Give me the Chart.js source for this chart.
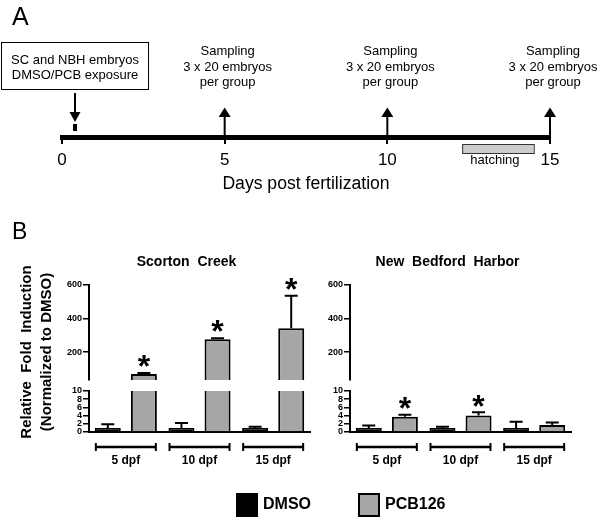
<!DOCTYPE html>
<html>
<head>
<meta charset="utf-8">
<script src="https://cdn.jsdelivr.net/npm/chart.js@4.4.0/dist/chart.umd.min.js"></script>
<style>
  body { margin: 0; background: #fff; }
  #wrap { position: relative; width: 600px; height: 526px; }
  canvas { position: absolute; left: 0; top: 0; }
</style>
</head>
<body>
<div id="wrap">
  <canvas id="timeline" width="600" height="526"></canvas>
  <canvas id="scUp" width="600" height="526"></canvas>
  <canvas id="scLow" width="600" height="526"></canvas>
  <canvas id="nbhUp" width="600" height="526"></canvas>
  <canvas id="nbhLow" width="600" height="526"></canvas>
</div>
<script>
// ---- panel A: timeline ----
const dayTicks = [0, 5, 10, 15];
const exposureDay = 0.4;
const exposureText = ["SC and NBH embryos", "DMSO/PCB exposure"];
const samplingDays = [5, 10, 15];
const samplingText = ["Sampling", "3 x 20 embryos", "per group"];
const hatchingDays = [12.3, 14.5];

// ---- panel B: fold induction ----
const groups = ["5 dpf", "10 dpf", "15 dpf"];
const scDMSO = [1.0, 1.0, 1.0];
const scDMSOErr = [0.9, 1.2, 0.3];
const scPCB = [70, 276, 341];
const scPCBErr = [6, 6, 193];
const scSig = [true, true, true];
const nbhDMSO = [1.0, 1.0, 1.0];
const nbhDMSOErr = [0.6, 0.3, 1.5];
const nbhPCB = [3.7, 4.0, 1.7];
const nbhPCBErr = [0.5, 0.8, 0.6];
const nbhSig = [true, true, false];
const upperTicks = [200, 400, 600];
const upperRange = [35, 600];
const lowerRange = [0, 10];

const FONT = "'Liberation Sans', Arial, sans-serif";
const GRAY = "#a6a6a9";
Chart.defaults.font.family = FONT;
Chart.defaults.color = "#000";

function arrowHead(ctx, x, tipY, baseY, half) {
  ctx.beginPath();
  ctx.moveTo(x - half, baseY);
  ctx.lineTo(x + half, baseY);
  ctx.lineTo(x, tipY);
  ctx.closePath();
  ctx.fill();
}

const timelineNotes = {
  id: "timelineNotes",
  afterDraw(chart) {
    const { ctx, scales: { x } } = chart;
    const base = chart.chartArea.bottom;
    ctx.save();
    ctx.fillStyle = "#000";
    ctx.strokeStyle = "#000";

    ctx.font = "25px " + FONT;
    ctx.textAlign = "left";
    ctx.textBaseline = "alphabetic";
    ctx.fillText("A", 12, 25);

    // exposure box + arrow
    const ex = x.getPixelForValue(exposureDay);
    ctx.lineWidth = 1;
    ctx.strokeRect(ex - 74 + 0.5, 42.5, 147, 47);
    ctx.font = "13px " + FONT;
    ctx.textAlign = "center";
    ctx.textBaseline = "middle";
    exposureText.forEach((t, i) => ctx.fillText(t, ex, 60 + i * 15));
    ctx.lineWidth = 2;
    ctx.beginPath();
    ctx.moveTo(ex, 93);
    ctx.lineTo(ex, 113);
    ctx.stroke();
    arrowHead(ctx, ex, 122, 112, 5.5);
    ctx.fillRect(ex - 2, 124, 4, 7);

    // sampling arrows
    samplingDays.forEach(d => {
      const sx = x.getPixelForValue(d);
      ctx.beginPath();
      ctx.moveTo(sx, base);
      ctx.lineTo(sx, 116);
      ctx.stroke();
      arrowHead(ctx, sx, 107.5, 117, 6);
      samplingText.forEach((t, i) => ctx.fillText(t, sx + 3, 51.7 + i * 15.3));
    });

    // hatching
    const h0 = x.getPixelForValue(hatchingDays[0]);
    const h1 = x.getPixelForValue(hatchingDays[1]);
    ctx.fillStyle = "#cccccc";
    ctx.fillRect(h0, 144, h1 - h0, 9);
    ctx.lineWidth = 1;
    ctx.strokeStyle = "#333";
    ctx.strokeRect(h0 + 0.5, 144.5, h1 - h0, 9);
    ctx.fillStyle = "#000";
    ctx.fillText("hatching", (h0 + h1) / 2 - 3, 160);
    ctx.restore();
  }
};

new Chart("timeline", {
  type: "scatter",
  data: { datasets: [] },
  options: {
    responsive: false,
    animation: false,
    devicePixelRatio: 1,
    layout: { padding: { left: 62, right: 50, top: 100, bottom: 526 - 137 - 60 } },
    plugins: { legend: { display: false }, tooltip: { enabled: false } },
    scales: {
      x: {
        type: "linear",
        min: 0,
        max: 15,
        afterFit: s => { s.height = 60; },
        afterBuildTicks: s => { s.ticks = dayTicks.map(v => ({ value: v })); },
        ticks: { font: { size: 17 }, padding: 6, maxRotation: 0 },
        grid: { drawOnChartArea: false, tickLength: 7, lineWidth: 2, color: "#000" },
        border: { width: 5, color: "#000" },
        title: {
          display: true,
          text: "Days post fertilization",
          font: { size: 17.6 },
          padding: { top: 0, bottom: 2 }
        }
      },
      y: { display: false, min: 0, max: 1 }
    }
  },
  plugins: [timelineNotes]
});

// error bars and asterisks, drawn where the bar top falls inside this segment
const errorBars = {
  id: "errorBars",
  afterDatasetsDraw(chart) {
    const { ctx, scales: { y } } = chart;
    ctx.save();
    ctx.strokeStyle = "#000";
    ctx.fillStyle = "#000";
    ctx.lineWidth = 2;
    chart.data.datasets.forEach((ds, di) => {
      chart.getDatasetMeta(di).data.forEach((bar, i) => {
        const v = ds.data[i];
        if (v < y.min || v > y.max) return;
        const y0 = y.getPixelForValue(v);
        const y1 = y.getPixelForValue(v + ds.errors[i]);
        ctx.beginPath();
        ctx.moveTo(bar.x, y0);
        ctx.lineTo(bar.x, y1);
        ctx.moveTo(bar.x - 6.5, y1);
        ctx.lineTo(bar.x + 6.5, y1);
        ctx.stroke();
        if (ds.stars[i]) {
          ctx.font = "bold 32px " + FONT;
          ctx.textAlign = "center";
          ctx.textBaseline = "alphabetic";
          ctx.fillText("*", bar.x, y1 - 14 + 0.57 * 32);
        }
      });
    });
    ctx.restore();
  }
};

const siteTitle = {
  id: "siteTitle",
  afterDraw(chart, args, opts) {
    const { ctx, chartArea } = chart;
    ctx.save();
    ctx.font = "bold 14px " + FONT;
    ctx.textAlign = "center";
    ctx.textBaseline = "middle";
    ctx.fillStyle = "#000";
    ctx.fillText(opts.text, (chartArea.left + chartArea.right) / 2 - 13, 262);
    ctx.restore();
  }
};

const groupBrackets = {
  id: "groupBrackets",
  afterDraw(chart) {
    const { ctx, scales: { x } } = chart;
    ctx.save();
    ctx.strokeStyle = "#000";
    groups.forEach((g, i) => {
      const c = x.getPixelForValue(i);
      ctx.lineWidth = 2.5;
      ctx.beginPath();
      ctx.moveTo(c - 30, 447);
      ctx.lineTo(c + 30, 447);
      ctx.stroke();
      ctx.lineWidth = 2;
      ctx.beginPath();
      ctx.moveTo(c - 30, 443);
      ctx.lineTo(c - 30, 451);
      ctx.moveTo(c + 30, 443);
      ctx.lineTo(c + 30, 451);
      ctx.stroke();
    });
    ctx.restore();
  }
};

const panelB = {
  id: "panelB",
  afterDraw(chart) {
    const { ctx } = chart;
    ctx.save();
    ctx.fillStyle = "#000";
    ctx.font = "23px " + FONT;
    ctx.textAlign = "left";
    ctx.textBaseline = "alphabetic";
    ctx.fillText("B", 12, 239);

    ctx.font = "bold 15px " + FONT;
    ctx.textAlign = "center";
    ctx.textBaseline = "middle";
    [["Relative  Fold  Induction", 27], ["(Normalized to DMSO)", 47]].forEach(([t, cx]) => {
      ctx.save();
      ctx.translate(cx, 352);
      ctx.rotate(-Math.PI / 2);
      ctx.fillText(t, 0, 0);
      ctx.restore();
    });

    // legend
    const ds = chart.data.datasets;
    const keys = [236, 358];
    ctx.font = "bold 16px " + FONT;
    ctx.textAlign = "left";
    ds.forEach((d, i) => {
      const kx = keys[i];
      ctx.fillStyle = "#000";
      ctx.fillRect(kx, 493, 22, 24);
      ctx.fillStyle = d.backgroundColor;
      ctx.fillRect(kx + 2, 495, 18, 20);
      ctx.fillStyle = "#000";
      ctx.fillText(d.label, kx + 27, 505);
    });
    ctx.restore();
  }
};

function datasetsFor(dmso, dmsoErr, pcb, pcbErr, sig) {
  const common = { borderColor: "#000", borderWidth: 2, clip: 0, categoryPercentage: 0.98, barPercentage: 0.72 };
  return [
    Object.assign({ label: "DMSO", data: dmso, errors: dmsoErr, stars: dmso.map(() => false), backgroundColor: "#000" }, common),
    Object.assign({ label: "PCB126", data: pcb, errors: pcbErr, stars: sig, backgroundColor: GRAY }, common)
  ];
}

function yAxis(range, lower) {
  const y = {
    min: range[0],
    max: range[1],
    afterFit: s => { s.width = 40; },
    ticks: { font: { size: 9, weight: "bold" }, padding: 1, autoSkip: false },
    grid: { drawOnChartArea: false, tickLength: 6, lineWidth: 1.5, color: "#000" },
    border: { color: "#000", width: 2 }
  };
  if (lower) y.ticks.stepSize = 2;
  else y.afterBuildTicks = s => { s.ticks = upperTicks.map(v => ({ value: v })); };
  return y;
}

function siteChart(id, left, lower, sets, title, extra) {
  const top = lower ? 391 : 284.5;
  const bottom = lower ? 432 : 380;
  const plugins = [errorBars];
  if (lower) plugins.push(groupBrackets); else plugins.push(siteTitle);
  if (extra) plugins.push(extra);
  return new Chart(id, {
    type: "bar",
    data: { labels: groups, datasets: sets },
    options: {
      responsive: false,
      animation: false,
      devicePixelRatio: 1,
      layout: { padding: { left: left - 40, right: 600 - left - 221, top: top, bottom: lower ? 0 : 526 - bottom } },
      plugins: { legend: { display: false }, tooltip: { enabled: false }, siteTitle: { text: title } },
      scales: {
        x: lower ? {
          afterFit: s => { s.height = 526 - bottom; },
          grid: { display: false, drawTicks: false },
          border: { color: "#000", width: 2 },
          ticks: { font: { size: 12, weight: "bold" }, padding: 21 }
        } : { display: false },
        y: yAxis(lower ? lowerRange : upperRange, lower)
      }
    },
    plugins: plugins
  });
}

siteChart("scUp", 89, false, datasetsFor(scDMSO, scDMSOErr, scPCB, scPCBErr, scSig), "Scorton  Creek");
siteChart("scLow", 89, true, datasetsFor(scDMSO, scDMSOErr, scPCB, scPCBErr, scSig), "Scorton  Creek", panelB);
siteChart("nbhUp", 350, false, datasetsFor(nbhDMSO, nbhDMSOErr, nbhPCB, nbhPCBErr, nbhSig), "New  Bedford  Harbor");
siteChart("nbhLow", 350, true, datasetsFor(nbhDMSO, nbhDMSOErr, nbhPCB, nbhPCBErr, nbhSig), "New  Bedford  Harbor");
</script>
</body>
</html>
